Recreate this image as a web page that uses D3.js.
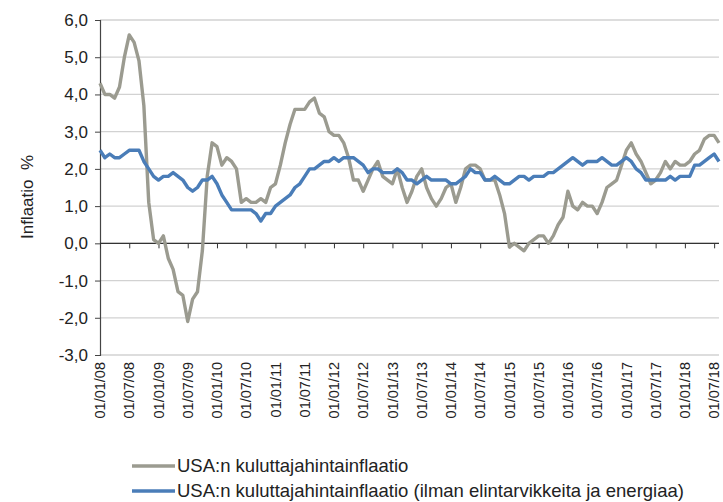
<!DOCTYPE html>
<meta charset="utf-8">
<style>
body { margin: 0; background: #fff; }
svg text { font-family: "Liberation Sans", Arial, sans-serif; fill: #222; }
.grid line { stroke: #d2d2d2; stroke-width: 1.3; }
.series { fill: none; stroke-width: 3.4; stroke-linejoin: round; }
</style>
<svg width="723" height="502"></svg>
<script src="https://d3js.org/d3.v7.min.js"></script>
<script>

// monthly year-on-year inflation, 01/2008 - 08/2018
var headline = [
  4.3, 4.0, 4.0, 3.9, 4.2, 5.0, 5.6, 5.4, 4.9, 3.7, 1.1, 0.1,
  0.0, 0.2, -0.4, -0.7, -1.3, -1.4, -2.1, -1.5, -1.3, -0.2, 1.8, 2.7,
  2.6, 2.1, 2.3, 2.2, 2.0, 1.1, 1.2, 1.1, 1.1, 1.2, 1.1, 1.5,
  1.6, 2.1, 2.7, 3.2, 3.6, 3.6, 3.6, 3.8, 3.9, 3.5, 3.4, 3.0,
  2.9, 2.9, 2.7, 2.3, 1.7, 1.7, 1.4, 1.7, 2.0, 2.2, 1.8, 1.7,
  1.6, 2.0, 1.5, 1.1, 1.4, 1.8, 2.0, 1.5, 1.2, 1.0, 1.2, 1.5,
  1.6, 1.1, 1.5, 2.0, 2.1, 2.1, 2.0, 1.7, 1.7, 1.7, 1.3, 0.8,
  -0.1, 0.0, -0.1, -0.2, 0.0, 0.1, 0.2, 0.2, 0.0, 0.2, 0.5, 0.7,
  1.4, 1.0, 0.9, 1.1, 1.0, 1.0, 0.8, 1.1, 1.5, 1.6, 1.7, 2.1,
  2.5, 2.7, 2.4, 2.2, 1.9, 1.6, 1.7, 1.9, 2.2, 2.0, 2.2, 2.1,
  2.1, 2.2, 2.4, 2.5, 2.8, 2.9, 2.9, 2.7
];

var core = [
  2.5, 2.3, 2.4, 2.3, 2.3, 2.4, 2.5, 2.5, 2.5, 2.2, 2.0, 1.8,
  1.7, 1.8, 1.8, 1.9, 1.8, 1.7, 1.5, 1.4, 1.5, 1.7, 1.7, 1.8,
  1.6, 1.3, 1.1, 0.9, 0.9, 0.9, 0.9, 0.9, 0.8, 0.6, 0.8, 0.8,
  1.0, 1.1, 1.2, 1.3, 1.5, 1.6, 1.8, 2.0, 2.0, 2.1, 2.2, 2.2,
  2.3, 2.2, 2.3, 2.3, 2.3, 2.2, 2.1, 1.9, 2.0, 2.0, 1.9, 1.9,
  1.9, 2.0, 1.9, 1.7, 1.7, 1.6, 1.7, 1.8, 1.7, 1.7, 1.7, 1.7,
  1.6, 1.6, 1.7, 1.8, 2.0, 1.9, 1.9, 1.7, 1.7, 1.8, 1.7, 1.6,
  1.6, 1.7, 1.8, 1.8, 1.7, 1.8, 1.8, 1.8, 1.9, 1.9, 2.0, 2.1,
  2.2, 2.3, 2.2, 2.1, 2.2, 2.2, 2.2, 2.3, 2.2, 2.1, 2.1, 2.2,
  2.3, 2.2, 2.0, 1.9, 1.7, 1.7, 1.7, 1.7, 1.7, 1.8, 1.7, 1.8,
  1.8, 1.8, 2.1, 2.1, 2.2, 2.3, 2.4, 2.2
];

var tickLabels = ["01/01/08", "01/07/08", "01/01/09", "01/07/09", "01/01/10", "01/07/10",
  "01/01/11", "01/07/11", "01/01/12", "01/07/12", "01/01/13", "01/07/13",
  "01/01/14", "01/07/14", "01/01/15", "01/07/15", "01/01/16", "01/07/16",
  "01/01/17", "01/07/17", "01/01/18", "01/07/18"];

var yTicks = [-3, -2, -1, 0, 1, 2, 3, 4, 5, 6];

var seriesNames = ["USA:n kuluttajahintainflaatio",
  "USA:n kuluttajahintainflaatio (ilman elintarvikkeita ja energiaa)"];
var seriesColors = ["#9b9b90", "#4a7db8"];

var svg = d3.select("svg");

var x = d3.scaleLinear().domain([0, headline.length - 1]).range([100, 719]);
var y = d3.scaleLinear().domain([-3, 6]).range([355, 20]);
var fmt = function(d) { return d3.format(".1f")(d).replace(".", ",").replace("−", "-"); };

// gridlines
svg.append("g").attr("class", "grid")
  .selectAll("line").data(yTicks).enter().append("line")
    .attr("x1", 100).attr("x2", 719)
    .attr("y1", function(d) { return y(d); })
    .attr("y2", function(d) { return y(d); });

// y axis
var yAxis = svg.append("g")
  .attr("transform", "translate(100,0)")
  .call(d3.axisLeft(y).tickValues(yTicks).tickSize(5).tickPadding(7).tickFormat(fmt));
yAxis.select(".domain").attr("stroke", "#444").attr("stroke-width", 1.2);
yAxis.selectAll(".tick line").attr("stroke", "#444");
yAxis.selectAll("text").style("font-size", "17px").attr("fill", "#222");

svg.append("text")
  .attr("transform", "translate(33,197) rotate(-90)")
  .attr("text-anchor", "middle")
  .style("font-size", "17px")
  .style("white-space", "pre")
  .text("Inflaatio  %");

// x axis along zero
var tickIdx = tickLabels.map(function(d, i) { return i * 6; });
var xAxis = svg.append("g")
  .attr("transform", "translate(0," + y(0) + ")")
  .call(d3.axisBottom(x).tickValues(tickIdx).tickSize(5).tickFormat(""));
xAxis.select(".domain").attr("stroke", "#333").attr("stroke-width", 1.2).attr("d", "M100,0H719");
xAxis.selectAll(".tick line").attr("stroke", "#333");

// x labels at the bottom
svg.append("g").selectAll("text").data(tickLabels).enter().append("text")
  .attr("transform", function(d, i) { return "translate(" + x(i * 6) + ",362) rotate(-90)"; })
  .attr("text-anchor", "end")
  .attr("dy", "0.36em")
  .style("font-size", "14.5px")
  .text(function(d) { return d; });

// series
var line = d3.line()
  .x(function(d, i) { return x(i); })
  .y(function(d) { return y(d); });

[headline, core].forEach(function(s, k) {
  svg.append("path")
    .attr("class", "series")
    .attr("stroke", seriesColors[k])
    .attr("d", line(s));
});

// legend
var legend = svg.append("g").selectAll("g").data(seriesNames).enter().append("g")
  .attr("transform", function(d, i) { return "translate(132," + (466 + i * 25) + ")"; });
legend.append("line")
  .attr("x1", 0).attr("x2", 43)
  .attr("stroke", function(d, i) { return seriesColors[i]; })
  .attr("stroke-width", 3.4);
legend.append("text")
  .attr("x", 45).attr("dy", "0.35em")
  .style("font-size", "18.5px")
  .text(function(d) { return d; });

</script>
